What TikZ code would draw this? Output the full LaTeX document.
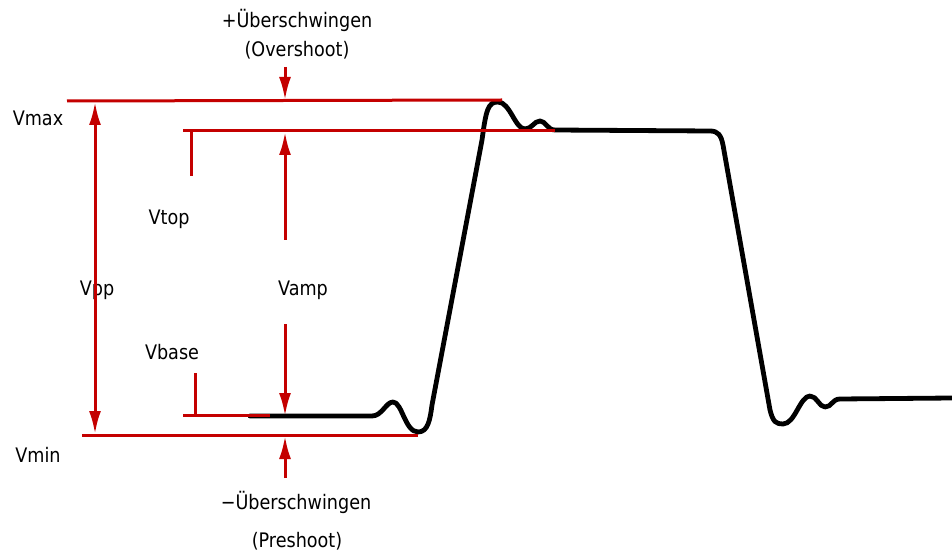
\documentclass[tikz,border=0pt]{standalone}
\usepackage{fontspec}
\setmainfont{DejaVu Sans}[FakeStretch=0.88]
\usetikzlibrary{arrows.meta}
\definecolor{markred}{RGB}{196,0,0}

\begin{document}
\begin{tikzpicture}[
  x=1pt, y=-1pt,
  every node/.style={font=\fontsize{20}{24}\selectfont, inner sep=0pt},
  level/.style={draw=markred, line width=3pt},
  measure/.style={draw=markred, line width=3pt, -{Latex[length=23pt,width=12pt]}},
  wave/.style={draw=black, line width=4.8pt, line join=round, line cap=round}
]
\useasboundingbox (0,0) rectangle (952,553);

% Waveform
\draw[wave] (250,416) -- (372,416)
  .. controls (382,416) and (386,402) .. (393,402)
  .. controls (402,402) and (405,432) .. (418,432)
  .. controls (428,432) and (430,420) .. (432,405)
  -- (482,140)
  .. controls (486,110) and (488,102) .. (498,102)
  .. controls (510,102) and (515,129) .. (525,129)
  .. controls (532,129) and (534,121) .. (540,121)
  .. controls (546,121) and (547,130) .. (555,130)
  -- (710,131)
  .. controls (718,131) and (721,135) .. (723,145)
  -- (770,410)
  .. controls (773,422) and (776,424) .. (783,424)
  .. controls (795,424) and (800,396) .. (810,396)
  .. controls (817,396) and (819,407) .. (825,407)
  .. controls (832,407) and (832,399) .. (840,399)
  -- (952,398);

% Levels
\coordinate (max-l) at (67,101);
\coordinate (max-r) at (502,100);
\coordinate (top-l) at (183,131);
\coordinate (top-r) at (555,131);
\coordinate (base-l) at (183,415);
\coordinate (base-r) at (270,415);
\coordinate (min-l) at (82,435);
\coordinate (min-r) at (418,435);
\draw[level] (max-l) -- (max-r);
\draw[level] (top-l) -- (top-r);
\draw[level] (base-l) -- (base-r);
\draw[level] (min-l) -- (min-r);

% Ticks
\coordinate (top-tick) at (191,176);
\coordinate (base-tick) at (195,373);
\draw[level] (top-tick) -- (top-tick |- top-l);
\draw[level] (base-tick) -- (base-tick |- base-l);

% Labels
\node (vmax) at (38,118) {Vmax};
\node (vmin) at (38,455) {Vmin};
\node (vtop) at (169,219) {Vtop};
\node (vbase) at (172,352) {Vbase};
\node (vpp) at (97,290) {Vpp};
\node (vamp) at (303,290) {Vamp};
\node (over) at (297,20) {+Überschwingen};
\node (over-en) at (297,50) {(Overshoot)};
\node (pre) at (296,502) {−Überschwingen};
\node (pre-en) at (297,541) {(Preshoot)};

% Arrows
\coordinate (over-s) at (285,67);
\coordinate (over-e) at (285,100);
\coordinate (amp-up-s) at (285,240);
\coordinate (amp-up-e) at (285,132);
\coordinate (amp-dn-s) at (285,324);
\coordinate (amp-dn-e) at (285,416);
\coordinate (pre-s) at (285,478);
\coordinate (pre-e) at (285,436);
\coordinate (pp-t) at (95,102);
\coordinate (pp-b) at (95,434);
\draw[measure] (over-s) -- (over-e);
\draw[measure] (amp-up-s) -- (amp-up-e);
\draw[measure] (amp-dn-s) -- (amp-dn-e);
\draw[measure] (pre-s) -- (pre-e);
\draw[measure, {Latex[length=23pt,width=12pt]}-{Latex[length=23pt,width=12pt]}] (pp-t) -- (pp-b);
\end{tikzpicture}
\end{document}
